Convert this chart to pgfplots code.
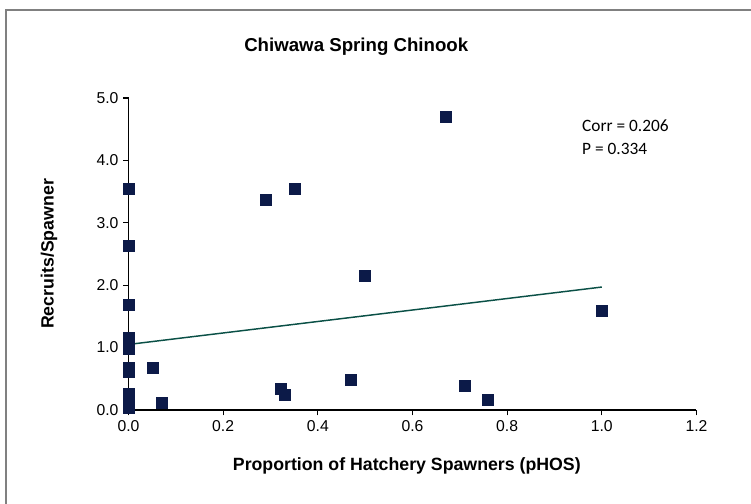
\documentclass[border=0pt]{standalone}
\usepackage{fontspec}
\setmainfont{Liberation Sans}
\newfontfamily\calib{Carlito}
\usepackage{pgfplots}
\pgfplotsset{compat=1.18}

\definecolor{navy}{RGB}{12,26,72}
\definecolor{trend}{RGB}{10,80,70}
\definecolor{frame}{RGB}{128,128,128}

\begin{document}
\begin{tikzpicture}
% page = 751x504 px at 0.75pt/px; axis origin at px (128.5,410)
\path[use as bounding box] (-96.4pt,-70.5pt) rectangle (466.9pt,307.5pt);
\draw[frame, line width=1pt] (-91.9pt,-71pt) -- (-91.9pt,300pt) -- (468pt,300pt);
\begin{axis}[
    at={(0,0)}, anchor=origin,
    scale only axis,
    width=426pt, height=234pt,
    xmin=0, xmax=1.2,
    ymin=0, ymax=5,
    axis lines*=left,
    axis line style={black, line width=0.9pt},
    tick style={black, line width=0.8pt},
    major tick length=4pt,
    tick align=outside,
    xtick={0,0.2,...,1.2},
    ytick={0,1,...,5},
    minor tick num=0,
    clip=false,
    /pgf/number format/.cd, fixed, fixed zerofill, precision=1, assume math mode=true,
    /pgfplots/.cd,
    ticklabel style={font=\fontsize{11.8}{14}\selectfont},
    xticklabel style={yshift=-0.5pt},
    title={\textbf{Chiwawa Spring Chinook}},
    title style={font=\fontsize{14}{16}\selectfont, at={(axis description cs:0.401,1.14)}, anchor=center},
    xlabel={\textbf{Proportion of Hatchery Spawners (pHOS)}},
    xlabel style={font=\fontsize{13.3}{15}\selectfont, at={(axis description cs:0.49,-0.18)}, anchor=center},
    ylabel={\textbf{Recruits/Spawner}},
    ylabel style={font=\fontsize{13.3}{15}\selectfont, at={(axis description cs:-0.14,0.5)}, anchor=center},
]
% trend line
\addplot[trend, line width=1.1pt] coordinates {(0,1.05) (1.0,1.97)};
% observations
\addplot[only marks, mark=square*, mark size=4.1pt, mark options={fill=navy, draw=navy}] coordinates {
    (0,3.54) (0,2.63) (0,1.68) (0,1.15) (0,0.98) (0,0.67) (0,0.61) (0,0.26) (0,0.11) (0,0.03)
    (0.051,0.67) (0.071,0.11) (0.290,3.37) (0.351,3.55) (0.321,0.34) (0.330,0.24)
    (0.470,0.49) (0.500,2.15) (0.670,4.70) (0.711,0.39) (0.760,0.16) (1.000,1.59)
};
\node[anchor=base west, inner sep=0pt, font=\calib\fontsize{13}{15}\selectfont] at (axis cs:0.958,4.46) {Corr = 0.206};
\node[anchor=base west, inner sep=0pt, font=\calib\fontsize{13}{15}\selectfont] at (axis cs:0.958,4.10) {P = 0.334};
\end{axis}
\end{tikzpicture}
\end{document}
